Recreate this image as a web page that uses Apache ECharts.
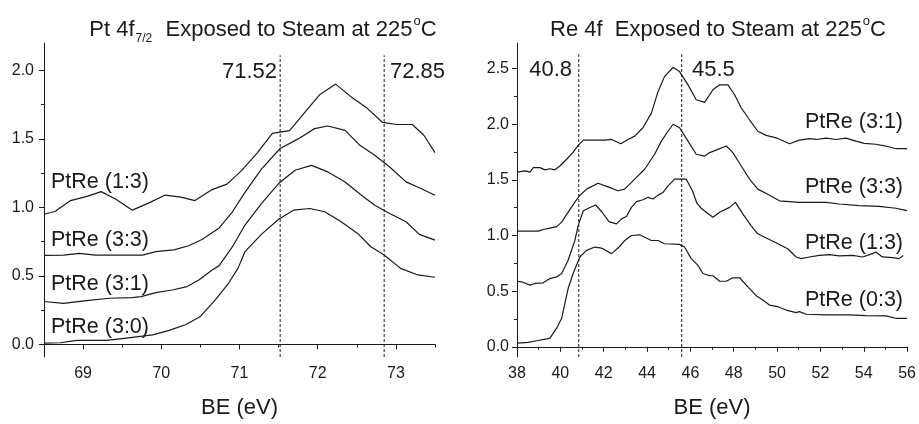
<!DOCTYPE html>
<html>
<head>
<meta charset="utf-8">
<script src="https://cdn.jsdelivr.net/npm/echarts@6/dist/echarts.min.js"></script>
<style>
  html, body { margin: 0; padding: 0; background: #fff; }
  #chart { width: 919px; height: 424px; }
</style>
</head>
<body>
<div id="chart"></div>
<script>
// Pt 4f panel (left)
const ptTicksX = [69, 70, 71, 72, 73]
const ptMinorX = [68.5, 69.5, 70.5, 71.5, 72.5, 73.5]
const ptTicksY = [0, 0.5, 1, 1.5, 2]
const ptMinorY = [0.25, 0.75, 1.25, 1.75]
const ptRefs = [71.52, 72.85]

const pt13 = [[68.5,0.95],[68.64,0.97],[68.84,1.05],[69.05,1.08],[69.23,1.115],[69.42,1.06],[69.63,0.98],[69.85,1.035],[70.05,1.09],[70.25,1.075],[70.43,1.05],[70.65,1.13],[70.84,1.17],[71.03,1.27],[71.23,1.40],[71.42,1.54],[71.64,1.56],[72.02,1.82],[72.23,1.90],[72.43,1.805],[72.62,1.73],[72.83,1.62],[73.01,1.605],[73.21,1.605],[73.36,1.525],[73.5,1.40]]
const pt33 = [[68.5,0.65],[68.75,0.652],[68.95,0.665],[69.16,0.652],[69.76,0.652],[69.93,0.677],[70.16,0.69],[70.35,0.72],[70.52,0.766],[70.74,0.85],[70.91,0.968],[71.07,1.11],[71.28,1.28],[71.52,1.43],[71.75,1.50],[71.96,1.575],[72.13,1.594],[72.35,1.562],[72.54,1.453],[72.73,1.38],[72.92,1.295],[73.13,1.186],[73.32,1.138],[73.5,1.089]]
const pt31 = [[68.5,0.313],[68.75,0.30],[69.04,0.32],[69.34,0.337],[69.63,0.342],[69.74,0.349],[69.93,0.378],[70.14,0.397],[70.33,0.422],[70.48,0.47],[70.65,0.543],[70.74,0.575],[70.91,0.713],[71.07,0.871],[71.28,1.028],[71.5,1.174],[71.71,1.271],[71.92,1.307],[72.13,1.259],[72.35,1.186],[72.56,1.089],[72.73,1.016],[72.92,0.956],[73.13,0.895],[73.3,0.803],[73.5,0.761]]
const pt30 = [[68.5,0.009],[68.71,0.012],[68.92,0.029],[69.3,0.029],[69.55,0.046],[69.89,0.07],[70.1,0.102],[70.31,0.143],[70.5,0.204],[70.69,0.325],[70.86,0.446],[70.98,0.555],[71.07,0.677],[71.28,0.803],[71.5,0.914],[71.69,0.98],[71.9,0.992],[72.09,0.968],[72.3,0.895],[72.51,0.81],[72.68,0.713],[72.85,0.652],[73.06,0.555],[73.28,0.507],[73.5,0.49]]

// Re 4f panel (right)
const reTicksX = [38, 40, 42, 44, 46, 48, 50, 52, 54, 56]
const reMinorX = [39, 41, 43, 45, 47, 49, 51, 53, 55]
const reTicksY = [0, 0.5, 1, 1.5, 2, 2.5]
const reMinorY = [0.25, 0.75, 1.25, 1.75, 2.25]
const reRefs = [40.85, 45.6]
const reRefLabels = ['40.8', '45.5']

const re31 = [[38,1.57],[38.37,1.58],[38.6,1.57],[38.75,1.61],[39.06,1.61],[39.29,1.59],[39.52,1.60],[39.75,1.59],[39.98,1.625],[40.29,1.685],[40.59,1.75],[40.82,1.81],[41.06,1.857],[42.05,1.857],[42.36,1.863],[42.79,1.825],[43.12,1.863],[43.43,1.893],[43.81,1.968],[44.2,2.10],[44.51,2.295],[44.81,2.43],[45.2,2.51],[45.5,2.473],[45.89,2.354],[46.27,2.22],[46.66,2.196],[47.04,2.31],[47.35,2.354],[47.73,2.354],[48.04,2.265],[48.35,2.146],[48.73,2.04],[49.11,1.937],[49.5,1.90],[49.96,1.878],[50.57,1.825],[51.03,1.857],[51.49,1.87],[51.8,1.863],[52.26,1.875],[52.72,1.863],[53.18,1.875],[53.64,1.848],[54.02,1.828],[54.56,1.82],[55.02,1.804],[55.48,1.78],[56,1.78]]
const re33 = [[38,1.039],[38.98,1.039],[39.21,1.054],[39.52,1.066],[39.83,1.08],[40.06,1.12],[40.36,1.21],[40.67,1.30],[40.88,1.357],[41.21,1.417],[41.74,1.47],[42.2,1.437],[42.66,1.402],[42.97,1.417],[43.43,1.506],[43.89,1.595],[44.35,1.73],[44.66,1.848],[44.97,1.937],[45.2,2.0],[45.5,1.968],[45.89,1.848],[46.27,1.73],[46.66,1.714],[46.89,1.745],[47.27,1.774],[47.66,1.804],[47.96,1.745],[48.35,1.625],[48.73,1.506],[49.11,1.417],[49.57,1.37],[50.11,1.312],[51.03,1.298],[52.26,1.298],[52.87,1.283],[53.79,1.268],[54.71,1.262],[55.48,1.245],[56,1.223]]
const re13 = [[38,0.589],[38.21,0.584],[38.6,0.554],[38.83,0.569],[39.21,0.575],[39.52,0.613],[39.83,0.628],[40.06,0.658],[40.36,0.777],[40.67,0.955],[40.82,1.089],[41.06,1.223],[41.29,1.245],[41.63,1.274],[41.93,1.209],[42.24,1.125],[42.59,1.104],[42.82,1.149],[43.05,1.17],[43.28,1.253],[43.51,1.304],[43.81,1.321],[44.05,1.343],[44.28,1.328],[44.51,1.363],[44.74,1.387],[44.97,1.446],[45.27,1.506],[45.81,1.506],[46.1,1.40],[46.3,1.29],[46.5,1.245],[46.73,1.209],[47.04,1.164],[47.35,1.209],[47.81,1.253],[48.08,1.298],[48.42,1.194],[48.8,1.089],[49.11,1.015],[49.5,0.977],[49.88,0.941],[50.49,0.881],[50.88,0.807],[51.11,0.792],[51.49,0.807],[51.95,0.821],[52.41,0.828],[52.87,0.816],[53.49,0.821],[53.95,0.807],[54.4,0.837],[54.56,0.852],[54.86,0.807],[55.33,0.801],[55.63,0.792],[55.82,0.821]]
const re03 = [[38,0.033],[38.52,0.039],[38.91,0.054],[39.37,0.071],[39.52,0.078],[39.83,0.167],[40.06,0.256],[40.21,0.39],[40.36,0.524],[40.59,0.658],[40.9,0.807],[41.21,0.866],[41.59,0.896],[41.9,0.887],[42.36,0.837],[42.66,0.887],[42.97,0.955],[43.28,1.0],[43.66,1.006],[44.2,0.955],[44.51,0.955],[44.81,0.926],[45.5,0.92],[45.73,0.896],[46.04,0.792],[46.35,0.732],[46.58,0.658],[46.89,0.638],[47.04,0.638],[47.35,0.589],[47.66,0.589],[47.96,0.62],[48.27,0.62],[48.58,0.554],[49.04,0.459],[49.34,0.42],[49.65,0.375],[50.03,0.36],[50.42,0.33],[50.88,0.307],[51.03,0.316],[51.34,0.292],[52.26,0.286],[53.33,0.286],[54.1,0.28],[55.02,0.277],[55.48,0.256],[56,0.256]]

const font = 'Liberation Sans'
const ink = '#1a1a1a'

const chart = echarts.init(document.getElementById('chart'))

function mainX(grid, min, max, ticks) {
  return {
    type: 'value', gridIndex: grid, min, max, position: 'bottom',
    name: 'BE (eV)', nameLocation: 'middle', nameGap: 40,
    nameTextStyle: { fontFamily: font, fontSize: 22, color: ink },
    splitLine: { show: false },
    axisLine: { lineStyle: { color: ink, width: 1 } },
    axisTick: { customValues: ticks, length: 5, lineStyle: { color: ink } },
    axisLabel: { customValues: ticks, margin: 9, fontFamily: font, fontSize: 16, color: ink }
  }
}
function minorX(grid, min, max, ticks) {
  return {
    type: 'value', gridIndex: grid, min, max, position: 'bottom',
    splitLine: { show: false },
    axisLine: { show: false },
    axisTick: { show: true, customValues: ticks, length: 3, lineStyle: { color: ink } },
    axisLabel: { show: false }
  }
}
function mainY(grid, min, max, ticks, margin) {
  return {
    type: 'value', gridIndex: grid, min, max, position: 'left',
    splitLine: { show: false },
    axisLine: { show: true, lineStyle: { color: ink, width: 1 } },
    axisTick: { show: true, customValues: ticks, length: 5, lineStyle: { color: ink } },
    axisLabel: { customValues: ticks, margin, fontFamily: font, fontSize: 16, color: ink,
      formatter: v => v.toFixed(1) }
  }
}
function minorY(grid, min, max, ticks) {
  return {
    type: 'value', gridIndex: grid, min, max, position: 'left',
    splitLine: { show: false },
    axisLine: { show: false },
    axisTick: { show: true, customValues: ticks, length: 3, lineStyle: { color: ink } },
    axisLabel: { show: false }
  }
}

function curve(data, axis) {
  return {
    type: 'line', data, xAxisIndex: axis, yAxisIndex: axis,
    showSymbol: false, silent: true, animation: false,
    lineStyle: { color: ink, width: 1.2 }
  }
}
function refLine(x, yMin, yTop, axis) {
  return {
    type: 'line', data: [[x, yMin], [x, yTop]], xAxisIndex: axis, yAxisIndex: axis,
    showSymbol: false, silent: true, animation: false,
    lineStyle: { color: ink, width: 1, type: [3, 2] }
  }
}

function txt(text, x, y, align, size) {
  return {
    type: 'text', x, y,
    style: { text, fill: ink, fontFamily: font, fontSize: size || 22, align, verticalAlign: 'middle' }
  }
}

const titleRich = {
  a: { fontFamily: font, fontSize: 22, fontWeight: 'normal', color: ink, lineHeight: 30, verticalAlign: 'middle' },
  sub: { fontFamily: font, fontSize: 12, fontWeight: 'normal', color: ink, lineHeight: 14, verticalAlign: 'bottom', padding: [0, 1, 0, 1] },
  sup: { fontFamily: font, fontSize: 13, fontWeight: 'normal', color: ink, lineHeight: 14, verticalAlign: 'top', padding: [0, 0, 0, 1] }
}

const ptMin = -0.092, ptMax = 2.2
const reMin = -0.092, reMax = 2.73

chart.setOption({
  backgroundColor: '#fff',
  animation: false,
  title: [
    { text: '{a|Pt 4f}{sub|7/2}{a|  Exposed to Steam at 225}{sup|o}{a|C}', left: 258, top: 10, textAlign: 'center',
      textStyle: { fontWeight: 'normal', rich: titleRich } },
    { text: '{a|Re 4f  Exposed to Steam at 225}{sup|o}{a|C}', left: 713, top: 10, textAlign: 'center',
      textStyle: { fontWeight: 'normal', rich: titleRich } }
  ],
  grid: [
    { left: 44, top: 43, width: 391, height: 316 },
    { left: 517, top: 43, width: 391, height: 316 }
  ],
  xAxis: [
    mainX(0, 68.5, 73.5, ptTicksX),
    minorX(0, 68.5, 73.5, ptMinorX),
    mainX(1, 38, 56, reTicksX),
    minorX(1, 38, 56, reMinorX)
  ],
  yAxis: [
    mainY(0, ptMin, ptMax, ptTicksY, 10),
    minorY(0, ptMin, ptMax, ptMinorY),
    mainY(1, reMin, reMax, reTicksY, 8),
    minorY(1, reMin, reMax, reMinorY)
  ],
  series: [
    curve(pt13, 0), curve(pt33, 0), curve(pt31, 0), curve(pt30, 0),
    refLine(ptRefs[0], ptMin, 2.11, 0), refLine(ptRefs[1], ptMin, 2.11, 0),
    curve(re31, 2), curve(re33, 2), curve(re13, 2), curve(re03, 2),
    refLine(reRefs[0], reMin, 2.63, 2), refLine(reRefs[1], reMin, 2.63, 2)
  ],
  graphic: [
    txt(ptRefs[0].toFixed(2), 277, 72, 'right'),
    txt(ptRefs[1].toFixed(2), 390, 72, 'left'),
    txt(reRefLabels[0], 572, 70, 'right'),
    txt(reRefLabels[1], 692, 70, 'left'),
    txt('PtRe (1:3)', 51, 182, 'left', 21.5),
    txt('PtRe (3:3)', 51, 240, 'left', 21.5),
    txt('PtRe (3:1)', 51, 284, 'left', 21.5),
    txt('PtRe (3:0)', 51, 327, 'left', 21.5),
    txt('PtRe (3:1)', 903, 122, 'right', 21.5),
    txt('PtRe (3:3)', 903, 187, 'right', 21.5),
    txt('PtRe (1:3)', 903, 243, 'right', 21.5),
    txt('PtRe (0:3)', 903, 300, 'right', 21.5)
  ]
})
</script>
</body>
</html>
